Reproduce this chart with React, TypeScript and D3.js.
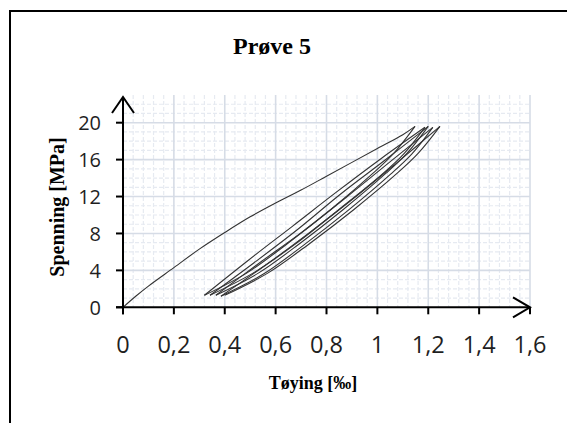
import React from "react";
import * as d3 from "d3";

const title = "Prøve 5";
const xTitle = "Tøying [‰]";
const yTitle = "Spenning [MPa]";

const xTicks = [0, 0.2, 0.4, 0.6, 0.8, 1, 1.2, 1.4, 1.6];
const yTicks = [0, 4, 8, 12, 16, 20];

// [strain ‰, stress MPa]
const load0: [number, number][] = [
  [0, 0], [0.05, 1.2], [0.1, 2.3], [0.2, 4.3], [0.3, 6.3], [0.4, 8.1], [0.5, 9.8],
  [0.6, 11.3], [0.7, 12.7], [0.8, 14.2], [0.9, 15.7], [1.0, 17.2], [1.1, 18.7], [1.148, 19.6],
];
const unload1: [number, number][] = [
  [1.148, 19.6], [1.065, 16.7], [0.982, 14.5], [0.817, 10.6], [0.651, 7.0], [0.486, 3.7], [0.32, 1.3],
];
const reload1: [number, number][] = [
  [0.32, 1.3], [0.493, 5.1], [0.667, 8.8], [0.84, 12.5], [1.014, 16.1], [1.187, 19.5],
];
const unload2: [number, number][] = [
  [1.187, 19.5], [1.103, 16.6], [1.018, 14.4], [0.849, 10.6], [0.68, 6.9], [0.511, 3.7], [0.342, 1.3],
];
const reload2: [number, number][] = [
  [0.342, 1.3], [0.514, 4.8], [0.685, 8.4], [0.857, 12.3], [1.028, 15.9], [1.2, 19.6],
];
const unload3: [number, number][] = [
  [1.2, 19.6], [1.117, 16.7], [1.033, 14.5], [0.866, 10.6], [0.699, 7.0], [0.532, 3.7], [0.365, 1.3],
];
const reload3: [number, number][] = [
  [0.365, 1.3], [0.536, 4.8], [0.706, 8.2], [0.877, 11.9], [1.047, 15.7], [1.218, 19.5],
];
const unload4: [number, number][] = [
  [1.218, 19.5], [1.135, 16.6], [1.051, 14.4], [0.885, 10.5], [0.718, 6.9], [0.552, 3.6], [0.385, 1.2],
];
const reload4: [number, number][] = [
  [0.385, 1.2], [0.557, 4.5], [0.729, 8.0], [0.902, 11.7], [1.074, 15.6], [1.246, 19.6],
];
const unload5: [number, number][] = [
  [1.246, 19.6], [1.161, 16.7], [1.077, 14.5], [0.908, 10.6], [0.738, 7.0], [0.569, 3.7], [0.4, 1.3],
];

const segments = [load0, unload1, reload1, unload2, reload2, unload3, reload3, unload4, reload4, unload5];

const W = 567;
const H = 423;

export default function App() {
  const x = d3.scaleLinear().domain([0, 1.6]).range([123, 530]);
  const y = d3.scaleLinear().domain([0, 23]).range([307.3, 95]);

  const minorX = d3.range(0, 1.6001, 0.04).filter((v) => Math.abs(v / 0.2 - Math.round(v / 0.2)) > 1e-6);
  const majorX = xTicks.filter((v) => v > 0);
  const minorY = d3.range(1, 23).filter((v) => v % 4 !== 0);
  const majorY = yTicks.filter((v) => v > 0);

  const line = d3
    .line<[number, number]>()
    .x((d) => x(d[0]))
    .y((d) => y(d[1]))
    .curve(d3.curveCatmullRom.alpha(0.5));

  const top = y(23);
  const bottom = y(0);
  const x0 = x(0);
  const x1 = x(1.6);

  return (
    <svg
      width={W}
      height={H}
      style={{ position: "absolute", left: 0, top: 0, background: "#fff" }}
    >
      <rect x={0} y={0} width={W} height={H} fill="#fff" />
      <rect x={10} y={11} width={W + 20} height={H + 20} fill="none" stroke="#000" strokeWidth={2} />

      {/* minor grid */}
      {minorX.map((v, i) => (
        <line key={"mx" + i} x1={x(v)} x2={x(v)} y1={top} y2={bottom} stroke="#e6eaf1" strokeWidth={1.2} strokeDasharray="4,2" />
      ))}
      {minorY.map((v, i) => (
        <line key={"my" + i} x1={x0} x2={x1} y1={y(v)} y2={y(v)} stroke="#e6eaf1" strokeWidth={1.2} strokeDasharray="4,2" />
      ))}
      {/* major grid */}
      {majorX.map((v, i) => (
        <line key={"Mx" + i} x1={x(v)} x2={x(v)} y1={top} y2={bottom} stroke="#d6dce6" strokeWidth={1.6} />
      ))}
      {majorY.map((v, i) => (
        <line key={"My" + i} x1={x0} x2={x1} y1={y(v)} y2={y(v)} stroke="#d6dce6" strokeWidth={1.6} />
      ))}

      {/* data */}
      {segments.map((s, i) => (
        <path key={"s" + i} d={line(s) || ""} fill="none" stroke="#333" strokeWidth={1.1} />
      ))}

      {/* axes */}
      <g stroke="#000" strokeWidth={2} fill="none" strokeLinecap="butt">
        <line x1={x0} x2={x0} y1={bottom + 7} y2={top + 2} />
        <polyline points={`${x0 - 11},${top + 18} ${x0},${top + 2} ${x0 + 11},${top + 18}`} />
        <line x1={x0 - 7} x2={x1} y1={bottom} y2={bottom} />
        <polyline points={`${x1 - 17},${bottom - 10} ${x1},${bottom} ${x1 - 17},${bottom + 10}`} />
        {yTicks.map((v) => (
          <line key={"yt" + v} x1={x0 - 7} x2={x0} y1={y(v)} y2={y(v)} />
        ))}
        {xTicks.map((v) => (
          <line key={"xt" + v} x1={x(v)} x2={x(v)} y1={bottom} y2={bottom + 7} />
        ))}
      </g>

      {/* tick labels */}
      <g fontFamily="'Open Sans', sans-serif" fill="#1f1f1f">
        {yTicks.map((v) => (
          <text key={"yl" + v} x={101} y={y(v) + 7.3} fontSize={20} textAnchor="end">
            {String(v)}
          </text>
        ))}
        {xTicks.map((v) => (
          <text key={"xl" + v} x={x(v)} y={353} fontSize={23.5} textAnchor="middle">
            {String(v).replace(".", ",")}
          </text>
        ))}
      </g>

      {/* titles */}
      <text x={272} y={54} fontFamily="'Liberation Serif', 'Times New Roman', serif" fontWeight="bold" fontSize={24} textAnchor="middle" fill="#000">
        {title}
      </text>
      <text x={313} y={389} fontFamily="'Liberation Serif', 'Times New Roman', serif" fontWeight="bold" fontSize={18} textAnchor="middle" fill="#000">
        {xTitle}
      </text>
      <text
        transform="translate(64,207) rotate(-90)"
        fontFamily="'Liberation Serif', 'Times New Roman', serif"
        fontWeight="bold"
        fontSize={20}
        textAnchor="middle"
        fill="#000"
      >
        {yTitle}
      </text>
    </svg>
  );
}
